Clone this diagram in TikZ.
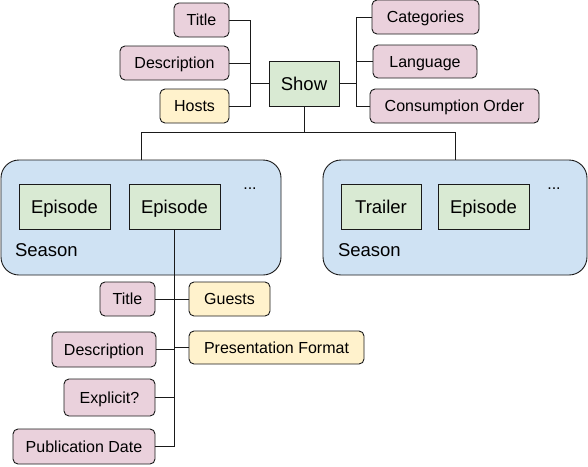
\documentclass[tikz,border=0pt]{standalone}
\usepackage{fontspec}
\setmainfont{Liberation Sans}
\definecolor{pinkf}{HTML}{EAD1DC}
\definecolor{yellowf}{HTML}{FFF2CC}
\definecolor{greenf}{HTML}{D9EAD3}
\definecolor{bluef}{HTML}{CFE2F3}
\definecolor{linec}{HTML}{1A1A1A}
\begin{document}
\begin{tikzpicture}[x=1pt,y=-1pt,
  every node/.style={inner sep=0pt, outer sep=0pt},
  conn/.style={draw=linec, line width=0.9pt},
  attr/.style={draw=linec, line width=0.9pt, rounded corners=5pt, fill=pinkf, font=\fontsize{16}{18}\selectfont, text height=11.5pt, text depth=0pt},
  attry/.style={attr, fill=yellowf},
  entity/.style={draw=linec, line width=0.9pt, fill=greenf, font=\fontsize{18.5}{21}\selectfont, text height=13.2pt, text depth=0pt},
  seasonbox/.style={draw=linec, line width=0.9pt, rounded corners=18pt, fill=bluef},
  lbl/.style={font=\fontsize{18.5}{21}\selectfont},
  dotsl/.style={font=\fontsize{16}{18}\selectfont}
]
\useasboundingbox (0,0) rectangle (588,466);
% top
\node[attr, minimum width=55pt, minimum height=34pt] (title1) at (201.5,20) {Title};
\node[attr, minimum width=109pt, minimum height=34pt] (desc1) at (174.5,63) {Description};
\node[attry, minimum width=69pt, minimum height=34pt] (hosts) at (194.5,106) {Hosts};
\node[entity, minimum width=70pt, minimum height=45pt] (show) at (304,83.5) {Show};
\node[attr, minimum width=107pt, minimum height=34pt] (cat) at (425.5,17) {Categories};
\node[attr, minimum width=104pt, minimum height=33pt] (lang) at (425,61.5) {Language};
\node[attr, minimum width=169pt, minimum height=34pt] (cons) at (454.5,106) {Consumption Order};
\coordinate (lb) at (250,0);
\coordinate (rb) at (356,0);
\draw[conn] (title1.east) -- (title1.east -| lb) |- (hosts.east);
\draw[conn] (desc1.east) -- (desc1.east -| lb);
\draw[conn] (show.west) -- (show.west -| lb);
\draw[conn] (cat.west) -- (cat.west -| rb) |- (cons.west);
\draw[conn] (lang.west) -- (lang.west -| rb);
\draw[conn] (show.east) -- (show.east -| rb);
% seasons
\node[seasonbox, minimum width=280pt, minimum height=115pt] (season1) at (141,217.5) {};
\node[seasonbox, minimum width=264pt, minimum height=115pt] (season2) at (455,217.5) {};
\node[entity, minimum width=91pt, minimum height=45pt] (ep1) at (64.5,206.5) {Episode};
\node[entity, minimum width=91pt, minimum height=45pt] (ep2) at (174.5,206.5) {Episode};
\node[entity, minimum width=80pt, minimum height=45pt] (trailer) at (381,206.5) {Trailer};
\node[entity, minimum width=91pt, minimum height=45pt] (ep3) at (483.5,206.5) {Episode};
\node[lbl, anchor=base west] (s1lbl) at (15,256) {Season};
\node[lbl, anchor=base west] (s2lbl) at (338,256) {Season};
\node[dotsl, anchor=base] (dots1) at (250,189.5) {...};
\node[dotsl, anchor=base] (dots2) at (554,189.5) {...};
\coordinate (hb) at (0,132);
\draw[conn] (show.south) -- (show.south |- hb);
\draw[conn] (season1.north) |- (season2.north |- hb) -- (season2.north);
% bottom
\node[attr, minimum width=55pt, minimum height=34pt] (title2) at (127.5,299) {Title};
\node[attry, minimum width=81pt, minimum height=34pt] (guests) at (229.5,299) {Guests};
\node[attr, minimum width=104pt, minimum height=35pt] (desc2) at (104,349.5) {Description};
\node[attry, minimum width=175pt, minimum height=33pt] (pres) at (276.5,347.5) {Presentation Format};
\node[attr, minimum width=91pt, minimum height=37pt] (expl) at (109.5,397.5) {Explicit?};
\node[attr, minimum width=142pt, minimum height=35pt] (pub) at (84,446.5) {Publication Date};
\draw[conn] (ep2.south) -- (ep2.south |- pub.east) -- (pub.east);
\draw[conn] (title2.east) -- (title2.east -| ep2.south);
\draw[conn] (guests.west) -- (guests.west -| ep2.south);
\draw[conn] (desc2.east) -- (desc2.east -| ep2.south);
\draw[conn] (pres.west) -- (pres.west -| ep2.south);
\draw[conn] (expl.east) -- (expl.east -| ep2.south);
\end{tikzpicture}
\end{document}
